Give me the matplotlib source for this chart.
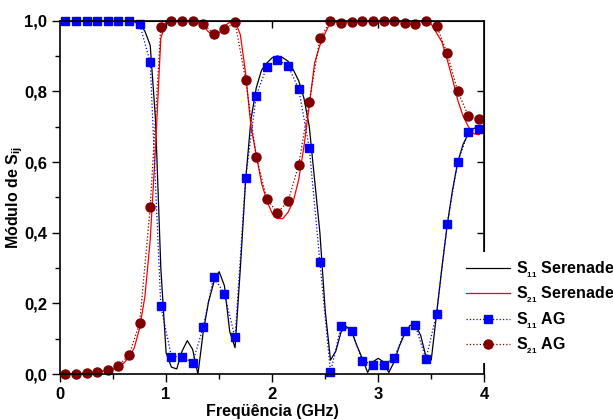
import numpy as np
import matplotlib
matplotlib.use("Agg")
import matplotlib.pyplot as plt
from matplotlib.ticker import FixedLocator, FuncFormatter

plt.rcParams['font.family'] = ['Liberation Sans', 'DejaVu Sans']
plt.rcParams['font.weight'] = 'bold'
plt.rcParams['axes.labelweight'] = 'bold'
plt.rcParams['mathtext.fontset'] = 'custom'
plt.rcParams['mathtext.rm'] = 'Liberation Sans:bold'
plt.rcParams['mathtext.bf'] = 'Liberation Sans:bold'
plt.rcParams['mathtext.default'] = 'bf'

# Serenade simulation (fine sweep)
ser_freq = [0.00, 0.05, 0.10, 0.15, 0.20, 0.25, 0.30, 0.35, 0.40, 0.45,
            0.50, 0.55, 0.60, 0.65, 0.70, 0.75, 0.80, 0.85, 0.90, 0.95,
            1.00, 1.05, 1.10, 1.15, 1.20, 1.25, 1.30, 1.35, 1.40, 1.45,
            1.50, 1.55, 1.60, 1.65, 1.70, 1.75, 1.80, 1.85, 1.90, 1.95,
            2.00, 2.05, 2.10, 2.15, 2.20, 2.25, 2.30, 2.35, 2.40, 2.45,
            2.50, 2.55, 2.60, 2.65, 2.70, 2.75, 2.80, 2.85, 2.90, 2.95,
            3.00, 3.05, 3.10, 3.15, 3.20, 3.25, 3.30, 3.35, 3.40, 3.45,
            3.50, 3.55, 3.60, 3.65, 3.70, 3.75, 3.80, 3.85, 3.90, 3.95, 4.00]
s11_ser = [1.0, 1.0, 1.0, 1.0, 1.0, 1.0, 1.0, 1.0, 1.0, 1.0,
           1.0, 1.0, 1.0, 1.0, 0.998, 0.99, 0.97, 0.93, 0.72, 0.30,
           0.06, 0.02, 0.015, 0.065, 0.095, 0.07, 0.0, 0.12, 0.205, 0.26,
           0.29, 0.25, 0.12, 0.075, 0.30, 0.55, 0.72, 0.81, 0.86, 0.88,
           0.895, 0.90, 0.895, 0.885, 0.86, 0.83, 0.78, 0.70, 0.55, 0.40,
           0.18, 0.04, 0.065, 0.12, 0.135, 0.12, 0.08, 0.045, 0.005, 0.035,
           0.045, 0.035, 0.005, 0.035, 0.08, 0.115, 0.138, 0.14, 0.11, 0.05,
           0.04, 0.17, 0.30, 0.42, 0.52, 0.60, 0.65, 0.68, 0.695, 0.70, 0.70]
s21_ser = [0.0, 0.0, 0.001, 0.001, 0.002, 0.003, 0.004, 0.006, 0.008, 0.011,
           0.015, 0.021, 0.031, 0.048, 0.075, 0.13, 0.22, 0.38, 0.64, 0.95,
           0.998, 1.0, 1.0, 1.0, 1.0, 1.0, 0.995, 0.985, 0.968, 0.958,
           0.965, 0.985, 0.995, 0.998, 0.96, 0.85, 0.70, 0.62, 0.54, 0.49,
           0.455, 0.44, 0.44, 0.458, 0.49, 0.55, 0.645, 0.76, 0.88, 0.93,
           0.965, 0.995, 1.0, 1.0, 1.0, 1.0, 1.0, 1.0, 1.0, 1.0,
           1.0, 1.0, 1.0, 1.0, 1.0, 1.0, 0.998, 0.997, 0.998, 0.995,
           0.99, 0.965, 0.94, 0.89, 0.835, 0.775, 0.73, 0.70, 0.68, 0.677, 0.69]

# genetic algorithm (AG) result
ag_freq = [0.05, 0.15, 0.25, 0.35, 0.45, 0.55, 0.65, 0.75, 0.85, 0.95,
           1.05, 1.15, 1.25, 1.35, 1.45, 1.55, 1.65, 1.75, 1.85, 1.95,
           2.05, 2.15, 2.25, 2.35, 2.45, 2.55, 2.65, 2.75, 2.85, 2.95,
           3.05, 3.15, 3.25, 3.35, 3.45, 3.55, 3.65, 3.75, 3.85, 3.95]
s11_ag = [1.0, 1.0, 1.0, 1.0, 1.0, 1.0, 1.0, 0.99, 0.882, 0.192,
          0.050, 0.050, 0.033, 0.133, 0.276, 0.226, 0.104, 0.556, 0.788, 0.870,
          0.889, 0.872, 0.807, 0.639, 0.317, 0.005, 0.137, 0.122, 0.038, 0.027,
          0.027, 0.046, 0.121, 0.138, 0.043, 0.170, 0.424, 0.601, 0.684, 0.694]
s21_ag = [0.0, 0.002, 0.003, 0.007, 0.011, 0.024, 0.054, 0.144, 0.472, 0.983,
          1.0, 1.0, 1.0, 0.991, 0.962, 0.975, 0.995, 0.832, 0.615, 0.495,
          0.457, 0.489, 0.592, 0.771, 0.950, 0.998, 0.993, 0.995, 1.0, 1.0,
          1.0, 0.998, 0.993, 0.991, 1.0, 0.986, 0.907, 0.800, 0.730, 0.721]

x_ticks = [0, 1, 2, 3, 4]
y_ticks = [0.0, 0.2, 0.4, 0.6, 0.8, 1.0]

fig = plt.figure(figsize=(6.13, 4.2), dpi=100)
ax = fig.add_axes([0.098, 0.109, 0.692, 0.842])

ax.plot(ser_freq, s11_ser, color='black', lw=0.9, label='S$_{_{11}}$ Serenade')
ax.plot(ser_freq, s21_ser, color='red', lw=0.9, label='S$_{_{21}}$ Serenade')
ax.plot(ag_freq, s11_ag, color='blue', ls=':', lw=0.9, marker='s', ms=6,
        mec='blue', mfc='blue', clip_on=False, label='S$_{_{11}}$ AG')
ax.plot(ag_freq, s21_ag, color='#800000', ls=':', lw=0.9, marker='o', ms=6.5,
        mec='#800000', mfc='#800000', clip_on=False, label='S$_{_{21}}$ AG')

ax.set_xlim(0, 4)
ax.set_ylim(0, 1.0)
ax.xaxis.set_major_locator(FixedLocator(x_ticks))
ax.yaxis.set_major_locator(FixedLocator(y_ticks))
ax.xaxis.set_minor_locator(FixedLocator([0.5, 1.5, 2.5, 3.5]))
ax.yaxis.set_minor_locator(FixedLocator([0.1, 0.3, 0.5, 0.7, 0.9]))
ax.yaxis.set_major_formatter(FuncFormatter(lambda v, p: f"{v:.1f}".replace('.', ',')))
ax.xaxis.set_major_formatter(FuncFormatter(lambda v, p: f"{v:.0f}"))

ax.tick_params(which='major', direction='out', length=6, width=1, labelsize=12)
ax.tick_params(which='minor', direction='out', length=3.5, width=1)
for s in ax.spines.values():
    s.set_linewidth(1.2)

# mirrored ticks pointing inwards on top and right
top = ax.secondary_xaxis('top')
top.xaxis.set_major_locator(FixedLocator(x_ticks[1:-1]))
top.tick_params(direction='in', length=5, width=1, labeltop=False)
right = ax.secondary_yaxis('right')
right.yaxis.set_major_locator(FixedLocator(y_ticks[1:-1]))
right.tick_params(direction='in', length=5, width=1, labelright=False)

ax.set_xlabel('Freqüência (GHz)', fontsize=11.5, fontweight='bold', labelpad=1)
ax.set_ylabel('Módulo de S$_{ij}$', fontsize=11.5, fontweight='bold')
ax.yaxis.set_label_coords(-0.083, 0.5)

leg = ax.legend(loc='upper left', bbox_to_anchor=(0.941, 0.345), fontsize=11.5,
                frameon=True, facecolor='white', edgecolor='none', framealpha=1,
                handlelength=2.7, handletextpad=0.4, labelspacing=0.3,
                borderpad=0.45, borderaxespad=0)
leg.set_zorder(5)

fig.savefig('out.png', dpi=100)
